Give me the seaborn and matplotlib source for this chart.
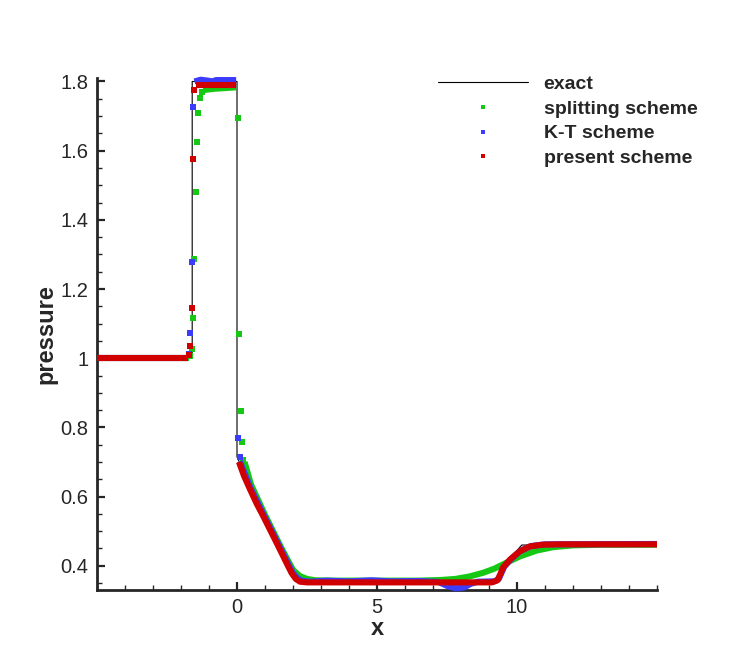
import pandas as pd
import matplotlib
matplotlib.use("Agg")
import matplotlib.pyplot as plt
import seaborn as sns
from matplotlib.lines import Line2D
from matplotlib.ticker import MultipleLocator, FuncFormatter

# exact solution
exact_x = [-5.0, -1.6, -1.6, 0.0, 0.0, 0.5, 1.0, 1.5, 2.0, 2.2, 9.38, 9.42, 10.17, 15.0]
exact_p = [1.0, 1.0, 1.8, 1.8, 0.715, 0.625, 0.545, 0.455, 0.378, 0.356, 0.356, 0.39, 0.46, 0.46]

# splitting scheme: thick dense part (seg = piece of the band) + isolated points
split_x = [-5.0, -1.72,
           -1.21, -0.8, -0.4, -0.03,
           0.27, 0.5, 1.0, 1.6, 2.0, 2.25, 2.5, 2.8, 3.5, 5.0, 6.5, 7.3, 7.8, 8.3,
           8.8, 9.2, 9.6, 10.1, 10.7, 11.3, 12.0, 13.0, 15.0]
split_p = [1.0, 1.0,
           1.775, 1.779, 1.781, 1.783,
           0.70, 0.635, 0.547, 0.449, 0.388, 0.37, 0.362, 0.358, 0.357, 0.357, 0.357, 0.359, 0.362, 0.369,
           0.38, 0.392, 0.408, 0.427, 0.444, 0.454, 0.459, 0.461, 0.461]
split_seg = [0, 0, 1, 1, 1, 1] + [2] * 23
split_pts_x = [-1.668, -1.618, -1.571, -1.525, -1.48, -1.43, -1.38, -1.31, -1.26,
               0.025, 0.075, 0.125, 0.175, 0.225]
split_pts_p = [1.005, 1.027, 1.116, 1.288, 1.480, 1.624, 1.708, 1.751, 1.770,
               1.695, 1.071, 0.848, 0.757, 0.705]

# K-T scheme
kt_x = [-5.0, -1.78,
        -1.52, -1.3, -1.0, -0.9, -0.75, -0.03,
        0.1, 0.5, 0.98, 1.58, 1.99, 2.15, 2.3, 2.6, 3.2, 4.0, 4.8, 5.5, 6.5, 7.2, 7.5, 7.8,
        8.1, 8.35, 8.6, 9.2, 9.35, 9.45, 9.55, 9.8, 10.1, 10.5, 11.0, 15.0]
kt_p = [1.0, 1.0,
        1.800, 1.805, 1.802, 1.799, 1.804, 1.804,
        0.702, 0.622, 0.543, 0.446, 0.38, 0.365, 0.357, 0.354, 0.357, 0.355, 0.358, 0.355, 0.356, 0.353, 0.342, 0.335,
        0.337, 0.348, 0.354, 0.355, 0.362, 0.38, 0.398, 0.42, 0.442, 0.457, 0.462, 0.463]
kt_seg = [0, 0, 1, 1, 1, 1, 1, 1] + [2] * 28
kt_pts_x = [-1.725, -1.668, -1.618, -1.571, 0.02, 0.095]
kt_pts_p = [1.013, 1.072, 1.277, 1.726, 0.769, 0.714]

# present scheme
pres_x = [-5.0, -1.76,
          -1.47, -0.03,
          0.07, 0.25, 0.46, 0.7, 0.94, 1.25, 1.54, 1.8, 1.95, 2.1, 2.25, 2.5, 5.0, 9.1,
          9.3, 9.4, 9.5, 9.75, 10.1, 10.46, 10.9, 11.5, 15.0]
pres_p = [1.0, 1.0,
          1.79, 1.79,
          0.70, 0.66, 0.622, 0.58, 0.543, 0.493, 0.446, 0.403, 0.379, 0.362, 0.354, 0.352, 0.352, 0.352,
          0.358, 0.375, 0.395, 0.418, 0.442, 0.456, 0.461, 0.462, 0.462]
pres_seg = [0, 0, 1, 1] + [2] * 23
pres_pts_x = [-1.725, -1.668, -1.618, -1.571, -1.525]
pres_pts_p = [1.010, 1.034, 1.144, 1.577, 1.774]

labels = ["exact", "splitting scheme", "K-T scheme", "present scheme"]
green, blue, red = "#14c814", "#3c3cff", "#d00000"

sns.set_style("ticks")
plt.rcParams["font.family"] = ["Liberation Sans", "DejaVu Sans"]

fig = plt.figure(figsize=(7.47, 6.65), dpi=100)
ax = fig.add_axes([97 / 747, 75 / 665, 560 / 747, 512 / 665])

sns.lineplot(x=exact_x, y=exact_p, sort=False, estimator=None, color="black",
             lw=0.8, ax=ax, zorder=1)

series = [
    (split_x, split_p, split_seg, split_pts_x, split_pts_p, green),
    (kt_x, kt_p, kt_seg, kt_pts_x, kt_pts_p, blue),
    (pres_x, pres_p, pres_seg, pres_pts_x, pres_pts_p, red),
]
for z, (bx, bp, bs, px, pp, c) in enumerate(series):
    band = pd.DataFrame({"x": bx, "p": bp, "seg": bs})
    sns.lineplot(data=band, x="x", y="p", units="seg", estimator=None, sort=False,
                 color=c, lw=4.4, solid_capstyle="butt", ax=ax, legend=False,
                 zorder=2 + z, clip_on=False)
    sns.scatterplot(x=px, y=pp, marker="s", s=17, color=c, linewidth=0,
                    ax=ax, legend=False, zorder=2 + z)

ax.set_xlim(-5, 15)
ax.set_ylim(0.33, 1.81)
sns.despine(ax=ax)
for s in ["left", "bottom"]:
    ax.spines[s].set_linewidth(2)
ax.set_xticks([0, 5, 10])
ax.xaxis.set_minor_locator(MultipleLocator(1))
ax.yaxis.set_major_locator(MultipleLocator(0.2))
ax.yaxis.set_minor_locator(MultipleLocator(0.05))
ax.yaxis.set_major_formatter(FuncFormatter(lambda v, pos: "%g" % round(v, 2)))
ax.tick_params(which="major", direction="in", length=6, width=1.6, labelsize=14.5, pad=6)
ax.tick_params(which="minor", direction="in", length=3.5, width=1)
ax.tick_params(axis="x", which="major", pad=6)
ax.set_xlabel("x", fontsize=17, fontweight="bold", labelpad=0)
ax.set_ylabel("pressure", fontsize=17, fontweight="bold", labelpad=2)

handles = [Line2D([], [], color="black", lw=0.8)]
for c in [green, blue, red]:
    handles.append(Line2D([], [], ls="none", marker="s", markersize=3.5,
                          markeredgewidth=0, color=c))
ax.legend(handles, labels, loc="upper left", bbox_to_anchor=(420 / 747, 1 - 58 / 665),
          bbox_transform=fig.transFigure, frameon=False, handlelength=4.64,
          handletextpad=0.82, labelspacing=0.36, borderpad=0.4,
          prop={"weight": "bold", "size": 14})

fig.savefig("out.png", dpi=100)
